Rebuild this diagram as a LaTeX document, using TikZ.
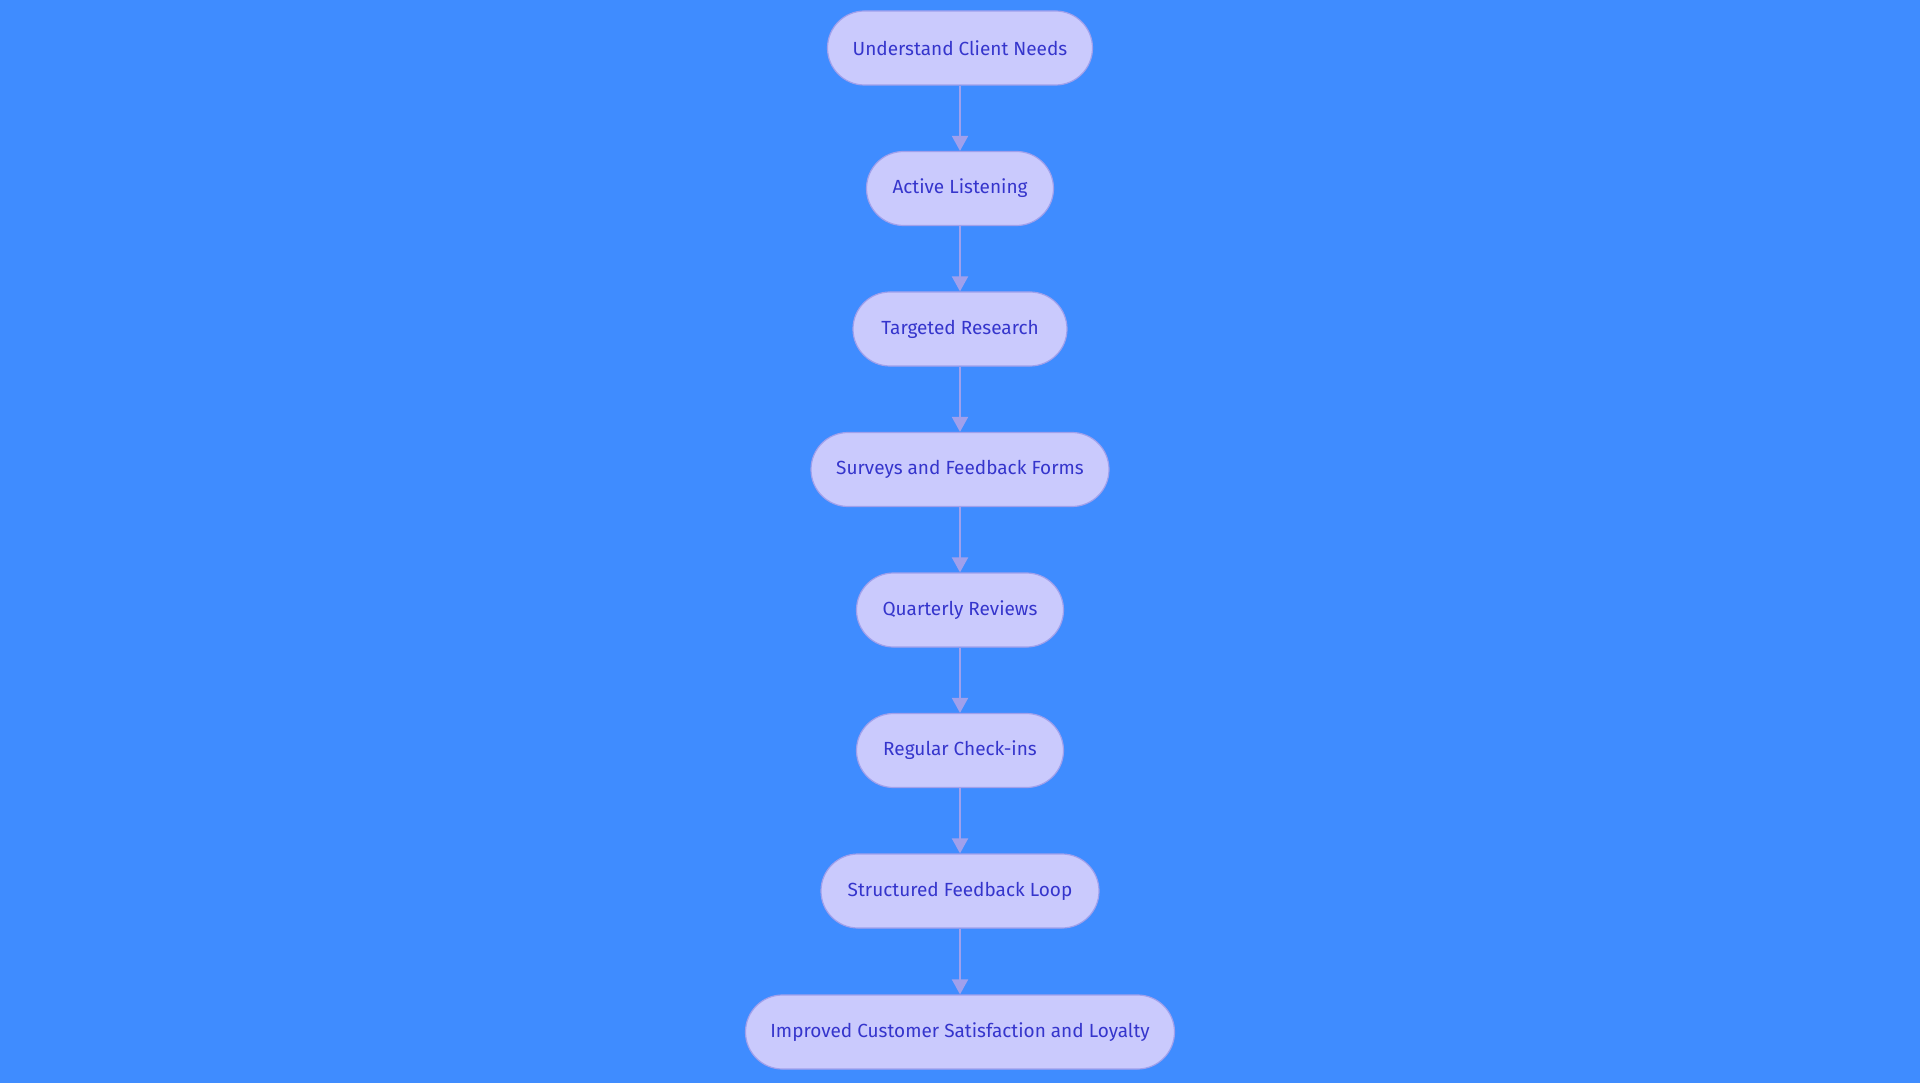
\documentclass[tikz,border=0pt]{standalone}
\usepackage{fontspec}
\setmainfont{Fira Sans}
\usetikzlibrary{arrows.meta}
\definecolor{bg}{HTML}{3F8CFF}
\definecolor{nodefill}{HTML}{CACAFD}
\definecolor{nodeborder}{HTML}{A0A0EC}
\definecolor{nodetext}{HTML}{3535CC}
\definecolor{arrowcol}{HTML}{A0A0EC}
\begin{document}
\begin{tikzpicture}[x=1pt,y=1pt,
  stepnode/.style={draw=nodeborder, line width=1.2pt, fill=nodefill, rounded corners=37pt,
    minimum height=74pt, inner sep=0pt, text=nodetext, font=\fontsize{19}{21}\selectfont},
  flowarrow/.style={draw=arrowcol, line width=2pt, -{Triangle[length=15pt,width=16pt]}}]
\fill[bg] (0,0) rectangle (1920,-1083);
\useasboundingbox (0,0) rectangle (1920,-1083);
\node[stepnode, minimum width=265pt] (n1) at (960,-48) {Understand Client Needs};
\node[stepnode, minimum width=187pt] (n2) at (960,-188.5) {Active Listening};
\node[stepnode, minimum width=214pt] (n3) at (960,-329) {Targeted Research};
\node[stepnode, minimum width=298pt] (n4) at (960,-469.5) {Surveys and Feedback Forms};
\node[stepnode, minimum width=207pt] (n5) at (960,-610) {Quarterly Reviews};
\node[stepnode, minimum width=207pt] (n6) at (960,-750.5) {Regular Check-ins};
\node[stepnode, minimum width=278pt] (n7) at (960,-891) {Structured Feedback Loop};
\node[stepnode, minimum width=429pt] (n8) at (960,-1032) {Improved Customer Satisfaction and Loyalty};
\foreach \a/\b in {n1/n2,n2/n3,n3/n4,n4/n5,n5/n6,n6/n7,n7/n8}
  \draw[flowarrow] (\a.south) -- (\b.north);
\end{tikzpicture}
\end{document}
